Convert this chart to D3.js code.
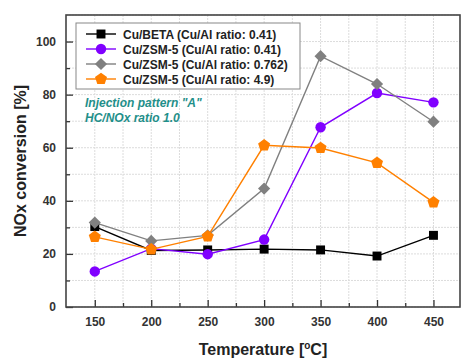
<!DOCTYPE html>
<html>
<head>
<meta charset="utf-8">
<script src="https://cdn.jsdelivr.net/npm/d3@7"></script>
<style>
  body { margin: 0; background: #fff; }
  svg { font-family: Arial, "Liberation Sans", sans-serif; }
</style>
</head>
<body>
<div id="chart"></div>
<script>
const temps = [150, 200, 250, 300, 350, 400, 450];
const cuBeta041 = [30.3, 21.3, 21.5, 21.8, 21.5, 19.2, 27];
const cuZsm041 = [13.4, 22, 19.9, 25.4, 67.7, 80.6, 77.1];
const cuZsm0762 = [31.8, 24.9, 27, 44.6, 94.5, 84, 69.8];
const cuZsm49 = [26.4, 21.7, 26.6, 60.9, 59.9, 54.3, 39.4];
const seriesNames = [
  'Cu/BETA (Cu/Al ratio: 0.41)',
  'Cu/ZSM-5 (Cu/Al ratio: 0.41)',
  'Cu/ZSM-5 (Cu/Al ratio: 0.762)',
  'Cu/ZSM-5 (Cu/Al ratio: 4.9)'
];
const xTicks = [150, 200, 250, 300, 350, 400, 450];
const yTicks = [0, 20, 40, 60, 80, 100];
const notes = ['Injection pattern "A"', 'HC/NOx ratio 1.0'];

// d3 has no pentagon; make one
const symbolPentagon = {
  draw(ctx, size) {
    const r = Math.sqrt(size / 2.378);
    for (let i = 0; i < 5; i++) {
      const a = -Math.PI / 2 + i * 2 * Math.PI / 5;
      const px = r * Math.cos(a), py = r * Math.sin(a);
      i ? ctx.lineTo(px, py) : ctx.moveTo(px, py);
    }
    ctx.closePath();
  }
};

const series = [
  { name: seriesNames[0], values: cuBeta041, color: '#000000', symbol: d3.symbolSquare, size: 80 },
  { name: seriesNames[1], values: cuZsm041, color: '#8000ff', symbol: d3.symbolCircle, size: 85 },
  { name: seriesNames[2], values: cuZsm0762, color: '#808080', symbol: d3.symbolDiamond2, size: 95 },
  { name: seriesNames[3], values: cuZsm49, color: '#ff8000', symbol: symbolPentagon, size: 95 }
];

const width = 461, height = 360;
const margin = { top: 15, right: 1, bottom: 53, left: 66 };
const w = width - margin.left - margin.right;
const h = height - margin.top - margin.bottom;

const x = d3.scaleLinear().domain([124.5, 473.5]).range([0, w]);
const y = d3.scaleLinear().domain([0, 110]).range([h, 0]);

const svg = d3.select('#chart').append('svg')
  .attr('width', width).attr('height', height);
const g = svg.append('g').attr('transform', `translate(${margin.left},${margin.top})`);

// grid
g.append('g').selectAll('line').data(d3.range(0, 111, 10)).join('line')
  .attr('x1', 0).attr('x2', w).attr('y1', d => y(d)).attr('y2', d => y(d))
  .attr('stroke', '#dcdcdc').attr('stroke-width', 1).attr('stroke-dasharray', '2,1');
g.append('g').selectAll('line').data(d3.range(150, 475, 25)).join('line')
  .attr('x1', d => x(d)).attr('x2', d => x(d)).attr('y1', 0).attr('y2', h)
  .attr('stroke', '#dcdcdc').attr('stroke-width', 1).attr('stroke-dasharray', '2,1');

// axes
const xAxis = g.append('g').attr('transform', `translate(0,${h})`)
  .call(d3.axisBottom(x).tickValues(xTicks).tickSize(-7).tickPadding(10).tickSizeOuter(0));
const xMinor = g.append('g').attr('transform', `translate(0,${h})`)
  .call(d3.axisBottom(x).tickValues(d3.range(175, 450, 50)).tickSize(-4).tickFormat('').tickSizeOuter(0));
const yAxis = g.append('g')
  .call(d3.axisLeft(y).tickValues(yTicks).tickSize(-7).tickPadding(10).tickSizeOuter(0));
const yMinor = g.append('g')
  .call(d3.axisLeft(y).tickValues(d3.range(10, 110, 20)).tickSize(-4).tickFormat('').tickSizeOuter(0));
[xAxis, xMinor, yAxis, yMinor].forEach(a => {
  a.select('.domain').remove();
  a.selectAll('line').attr('stroke', '#333').attr('stroke-width', 1.3);
});
[xAxis, yAxis].forEach(a => a.selectAll('text')
  .attr('font-size', 12).attr('font-weight', 'bold').attr('fill', '#333'));

// frame
g.append('rect').attr('x', 0).attr('y', 0).attr('width', w).attr('height', h)
  .attr('fill', 'none').attr('stroke', '#444').attr('stroke-width', 1.6);

// lines and markers
const line = d3.line().x((d, i) => x(temps[i])).y(d => y(d));
series.forEach(s => {
  g.append('path').datum(s.values).attr('d', line)
    .attr('fill', 'none').attr('stroke', s.color).attr('stroke-width', 1.4);
});
series.forEach(s => {
  g.append('g').selectAll('path').data(s.values).join('path')
    .attr('transform', (d, i) => `translate(${x(temps[i])},${y(d)})`)
    .attr('d', d3.symbol(s.symbol, s.size))
    .attr('fill', s.color);
});

// legend
const leg = svg.append('g').attr('transform', 'translate(76,23)');
leg.append('rect').attr('width', 224).attr('height', 66)
  .attr('fill', '#fff').attr('stroke', '#888').attr('stroke-width', 1);
series.forEach((s, i) => {
  const ly = 11 + i * 15;
  leg.append('line').attr('x1', 10).attr('x2', 40).attr('y1', ly).attr('y2', ly)
    .attr('stroke', s.color).attr('stroke-width', 1.4);
  leg.append('path').attr('transform', `translate(25,${ly})`)
    .attr('d', d3.symbol(s.symbol, s.size)).attr('fill', s.color);
  leg.append('text').attr('x', 47).attr('y', ly + 4.5)
    .attr('font-size', 12).attr('font-weight', 'bold').attr('fill', '#222').text(s.name);
});

// annotation
notes.forEach((t, i) => {
  svg.append('text').attr('x', 85).attr('y', 107 + i * 15)
    .attr('font-size', 12).attr('font-weight', 'bold').attr('font-style', 'italic')
    .attr('fill', '#1f8f8a').text(t);
});

// axis titles
svg.append('text').attr('transform', `translate(26,${margin.top + h / 2}) rotate(-90)`)
  .attr('text-anchor', 'middle').attr('font-size', 16).attr('font-weight', 'bold')
  .attr('fill', '#222').text('NOx conversion [%]');
const xt = svg.append('text').attr('x', margin.left + w / 2).attr('y', 355)
  .attr('text-anchor', 'middle').attr('font-size', 16).attr('font-weight', 'bold').attr('fill', '#222');
xt.append('tspan').text('Temperature [');
xt.append('tspan').attr('dy', -6).attr('font-size', 10).text('o');
xt.append('tspan').attr('dy', 6).text('C]');
</script>
</body>
</html>
